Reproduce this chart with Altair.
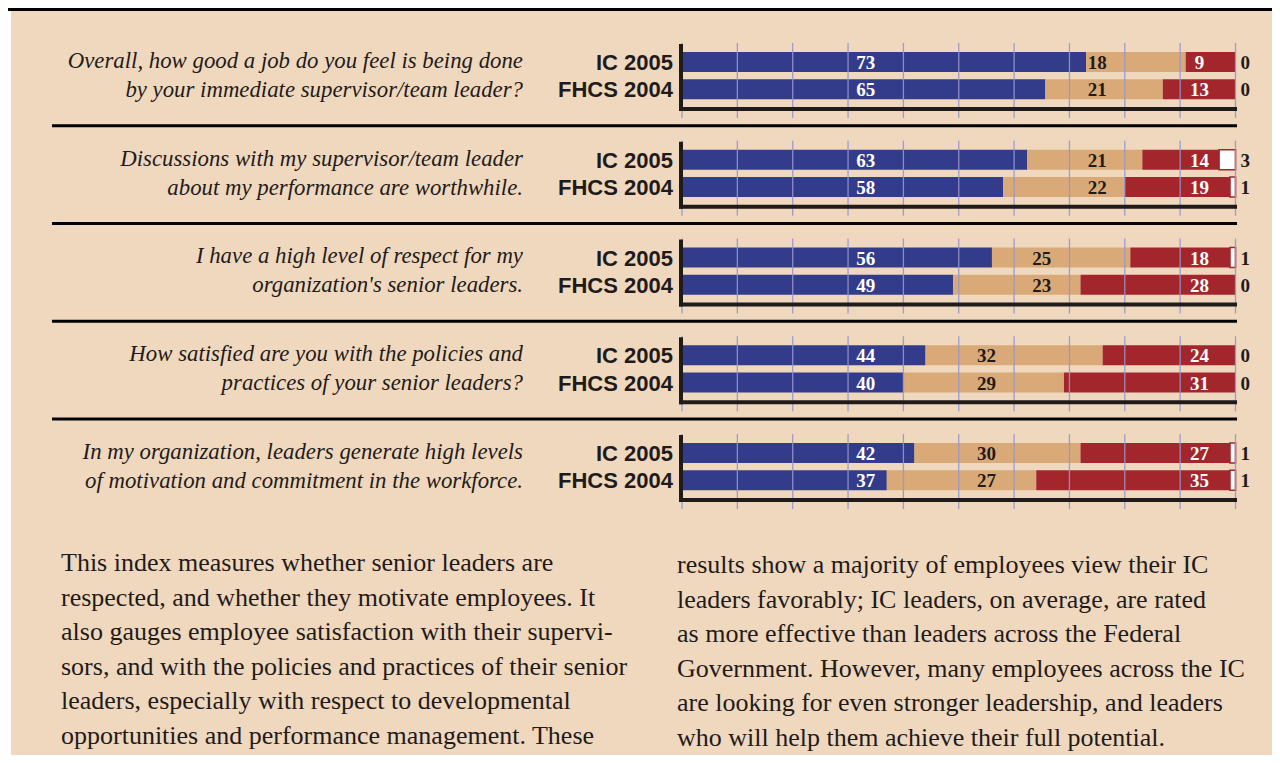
import math
import altair as alt
import pandas as pd

# ---------------- data ----------------
question_line1 = [
    "Overall, how good a job do you feel is being done",
    "Discussions with my supervisor/team leader",
    "I have a high level of respect for my",
    "How satisfied are you with the policies and",
    "In my organization, leaders generate high levels",
]
question_line2 = [
    "by your immediate supervisor/team leader?",
    "about my performance are worthwhile.",
    "organization's senior leaders.",
    "practices of your senior leaders?",
    "of motivation and commitment in the workforce.",
]
surveys = ["IC 2005", "FHCS 2004"]
categories = ["Positive", "Neutral", "Negative", "Other"]

ic_positive = [73, 63, 56, 44, 42]
ic_neutral = [18, 21, 25, 32, 30]
ic_negative = [9, 14, 18, 24, 27]
ic_other = [0, 3, 1, 0, 1]

fhcs_positive = [65, 58, 49, 40, 37]
fhcs_neutral = [21, 22, 23, 29, 27]
fhcs_negative = [13, 19, 28, 31, 35]
fhcs_other = [0, 1, 0, 0, 1]

body_left = [
    "This index measures whether senior leaders are",
    "respected, and whether they motivate employees. It",
    "also gauges employee satisfaction with their supervi-",
    "sors, and with the policies and practices of their senior",
    "leaders, especially with respect to developmental",
    "opportunities and performance management. These",
]
body_right = [
    "results show a majority of employees view their IC",
    "leaders favorably; IC leaders, on average, are rated",
    "as more effective than leaders across the Federal",
    "Government. However, many employees across the IC",
    "are looking for even stronger leadership, and leaders",
    "who will help them achieve their full potential.",
]

# ---------------- styles ----------------
BEIGE = "#efd8be"
BLUE = "#333c8a"
TAN = "#d9aa77"
RED = "#a3262d"
WHITE = "#ffffff"
DARK = "#1f1b1b"
GRID = "#9696cc"
SERIF = "Liberation Serif"
SANS = "Liberation Sans"

# layout offsets within a panel (in panel units)
ROW_OFF = {"IC 2005": 0.0, "FHCS 2004": 0.279}
GRID_TOP, GRID_BOT = -0.194, 0.573
AXIS_TOP, AXIS_BOT = -0.184, 0.481
SEP_Y = 0.652
Q_OFF = [0.061, 0.358]

xs = alt.Scale(domain=[0, 1], range=[671, 1224.5], nice=False, zero=False, padding=0)
ys = alt.Scale(domain=[0, 1], range=[51, 148.75], nice=False, zero=False, padding=0)

series = {
    "IC 2005": [ic_positive, ic_neutral, ic_negative, ic_other],
    "FHCS 2004": [fhcs_positive, fhcs_neutral, fhcs_negative, fhcs_other],
}

bar_rows, label_rows = [], []
for q in range(5):
    ic_p, ic_n = ic_positive[q], ic_neutral[q]
    fh_p, fh_n = fhcs_positive[q], fhcs_neutral[q]
    lo = max(ic_p, fh_p)
    hi = min(ic_p + ic_n, fh_p + fh_n)
    tan_pos = (math.floor((lo + hi) / 2 / 10) * 10 + 5) / 100
    label_x = [0.332, tan_pos, 0.935]
    for s in surveys:
        vals = [arr[q] for arr in series[s]]
        total = sum(vals)
        cum = 0
        ypos = q + ROW_OFF[s]
        for c, v in zip(categories, vals):
            v0 = cum / total
            cum += v
            v1 = cum / total
            if v > 0:
                bar_rows.append(dict(q=q, survey=s, cat=c, value=v, v0=v0, v1=v1, y=ypos))
        for i, c in enumerate(categories[:3]):
            label_rows.append(dict(q=q, survey=s, cat=c, value=str(vals[i]), lx=label_x[i], y=ypos,
                                   color=WHITE if c != "Neutral" else DARK))
        label_rows.append(dict(q=q, survey=s, cat="Other", value=str(vals[3]), lx=1.0, y=ypos, color=DARK))

bars_df = pd.DataFrame(bar_rows)
labels_df = pd.DataFrame(label_rows)
inner = labels_df[labels_df["cat"] != "Other"]
outer = labels_df[labels_df["cat"] == "Other"]

grid_df = pd.DataFrame([dict(x=t / 10, y=q + GRID_TOP, y2=q + GRID_BOT) for q in range(5) for t in range(11)])
axis_df = pd.DataFrame([dict(q=q, x0=0.0, x1=1.0, ytop=q + AXIS_TOP, ybot=q + AXIS_BOT) for q in range(5)])
sep_df = pd.DataFrame([dict(y=q + SEP_Y) for q in range(4)])
survey_df = pd.DataFrame([dict(label=s, x=0.0, y=q + ROW_OFF[s]) for q in range(5) for s in surveys])
q_df = pd.DataFrame(
    [dict(text=question_line1[q], y=q + Q_OFF[0]) for q in range(5)]
    + [dict(text=question_line2[q], y=q + Q_OFF[1]) for q in range(5)]
)
body_df = pd.DataFrame(
    [dict(col=0, line=i, text=t) for i, t in enumerate(body_left)]
    + [dict(col=1, line=i + 0.058, text=t) for i, t in enumerate(body_right)]
)

# ---------------- layers ----------------
top_bar = alt.Chart(pd.DataFrame({"a": [0]})).mark_rect(color="#000000").encode(
    x=alt.value(-3), x2=alt.value(1261), y=alt.value(-3), y2=alt.value(0)
)

bars = alt.Chart(bars_df).mark_bar(height=20, orient="horizontal", stroke=RED).encode(
    x=alt.X("v0:Q", scale=xs, axis=None),
    x2="v1:Q",
    y=alt.Y("y:Q", scale=ys, axis=None),
    color=alt.Color("cat:N", scale=alt.Scale(domain=categories, range=[BLUE, TAN, RED, WHITE]), legend=None),
    strokeWidth=alt.condition(alt.datum.cat == "Other", alt.value(1.6), alt.value(0)),
)

grid = alt.Chart(grid_df).mark_rule(color=GRID, strokeWidth=1.3, opacity=0.9).encode(
    x=alt.X("x:Q", scale=xs, axis=None),
    y=alt.Y("y:Q", scale=ys, axis=None),
    y2="y2:Q",
)

axis_v = alt.Chart(axis_df).mark_rule(color=DARK, strokeWidth=4, xOffset=-1, y2Offset=2).encode(
    x=alt.X("x0:Q", scale=xs, axis=None),
    y=alt.Y("ytop:Q", scale=ys, axis=None),
    y2="ybot:Q",
)

axis_h = alt.Chart(axis_df).mark_rule(color=DARK, strokeWidth=4, xOffset=-3, x2Offset=1.5).encode(
    x=alt.X("x0:Q", scale=xs, axis=None),
    x2="x1:Q",
    y=alt.Y("ybot:Q", scale=ys, axis=None),
)

seps = alt.Chart(sep_df).mark_rule(color="#000000", strokeWidth=3).encode(
    x=alt.value(41), x2=alt.value(1226),
    y=alt.Y("y:Q", scale=ys, axis=None),
)

survey_text = alt.Chart(survey_df).mark_text(
    align="right", baseline="alphabetic", dx=-9, dy=8, font=SANS, fontWeight="bold", fontSize=22, color=DARK
).encode(
    x=alt.X("x:Q", scale=xs, axis=None),
    y=alt.Y("y:Q", scale=ys, axis=None),
    text="label:N",
)

question_text = alt.Chart(q_df).mark_text(
    align="right", baseline="alphabetic", font=SERIF, fontStyle="italic", fontSize=22.8, color=DARK
).encode(
    x=alt.value(512),
    y=alt.Y("y:Q", scale=ys, axis=None),
    text="text:N",
)

inner_text = alt.Chart(inner).mark_text(
    align="center", baseline="alphabetic", dy=7, font=SERIF, fontWeight="bold", fontSize=19
).encode(
    x=alt.X("lx:Q", scale=xs, axis=None),
    y=alt.Y("y:Q", scale=ys, axis=None),
    text="value:N",
    color=alt.Color("color:N", scale=None),
)

outer_text = alt.Chart(outer).mark_text(
    align="left", baseline="alphabetic", dx=5, dy=7, font=SERIF, fontWeight="bold", fontSize=19, color=DARK
).encode(
    x=alt.X("lx:Q", scale=xs, axis=None),
    y=alt.Y("y:Q", scale=ys, axis=None),
    text="value:N",
)

body_text = alt.Chart(body_df).mark_text(
    align="left", baseline="alphabetic", font=SERIF, fontSize=26, color=DARK
).encode(
    x=alt.X("col:Q", scale=alt.Scale(domain=[0, 1], range=[50, 666], nice=False, zero=False, padding=0), axis=None),
    y=alt.Y("line:Q", scale=alt.Scale(domain=[0, 5], range=[560, 733], nice=False, zero=False, padding=0), axis=None),
    text="text:N",
)

chart = (
    alt.layer(top_bar, bars, grid, axis_v, axis_h, seps, survey_text, question_text, inner_text, outer_text, body_text)
    .resolve_scale(x="independent", y="independent", color="independent")
    .properties(
        width=1261,
        height=744,
        padding={"left": 3, "top": 3, "right": 0, "bottom": 0},
        autosize=alt.AutoSizeParams(type="none"),
        background="#ffffff",
    )
    .configure_view(fill=BEIGE, stroke=None)
)

chart.save("out.html", embed_options={"renderer": "svg", "actions": False})
